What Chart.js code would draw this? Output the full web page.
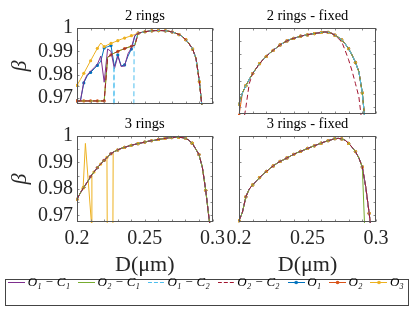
<!DOCTYPE html>
<html>
<head>
<meta charset="utf-8">
<title>beta vs D</title>
<script src="https://cdn.jsdelivr.net/npm/chart.js@4.4.1/dist/chart.umd.min.js"></script>
<style>
  html, body { margin: 0; padding: 0; background: #fff; }
  #fig { position: relative; width: 415px; height: 312px; overflow: hidden; }
  #fig canvas { position: absolute; }
  #legendBox { position: absolute; left: 5px; top: 279px; width: 402px; height: 25px; border: 1px solid #444; }
</style>
</head>
<body>
<div id="fig">
  <div id="legendBox"></div>
  <canvas id="panelA" width="230" height="120" style="left:0;top:0"></canvas>
  <canvas id="panelB" width="185" height="120" style="left:215px;top:0"></canvas>
  <canvas id="panelC" width="230" height="168" style="left:0;top:108px"></canvas>
  <canvas id="panelD" width="185" height="168" style="left:215px;top:108px"></canvas>
  <canvas id="legend" width="460" height="52" style="left:-22px;top:264px"></canvas>
</div>
<script>
// ticks: marks every 0.01 on D and 0.005 on beta, labels on a few of them
const xTickVals = [0.2, 0.21, 0.22, 0.23, 0.24, 0.25, 0.26, 0.27, 0.28, 0.29, 0.3];
const xTickLabels = [0.2, 0.25, 0.3];
const yTickVals = [0.97, 0.975, 0.98, 0.985, 0.99, 0.995, 1];
const yTickLabels = [0.97, 0.98, 0.99, 1];

// D values (um) on which most curves are sampled
const dGrid = [0.2, 0.2025, 0.205, 0.2075, 0.21, 0.2125, 0.215, 0.2175, 0.22, 0.2225,
  0.225, 0.2275, 0.23, 0.2325, 0.235, 0.2375, 0.24, 0.2425, 0.245, 0.2475,
  0.25, 0.2525, 0.255, 0.2575, 0.26, 0.2625, 0.265, 0.2675, 0.27, 0.2725,
  0.275, 0.2775, 0.28, 0.2825, 0.285, 0.2875, 0.29, 0.2925, 0.295, 0.2975, 0.3];

// (a) 2 rings : common right part of the dome (from D = 0.245)
const aTail = [0.9978, 0.9981, 0.9984, 0.9986, 0.9988, 0.9989, 0.9989, 0.9989, 0.9988, 0.9986,
  0.9983, 0.9978, 0.9972, 0.9963, 0.9950, 0.9932, 0.9910, 0.9870, 0.9770, 0.9630];
const aO3 = [0.9755, 0.9780, 0.9806, 0.9833, 0.9860, 0.9887, 0.9913, 0.9936, 0.9920, 0.9928,
  0.9934, 0.9940, 0.9946, 0.9952, 0.9957, 0.9962, 0.9967, 0.9972, ...aTail];
const aO2 = [0.9688, 0.9688, 0.9688, 0.9688, 0.9688, 0.9688, 0.9688, 0.9688, 0.9688, 0.9875,
  0.9885, 0.9893, 0.9900, 0.9906, 0.9912, 0.9917, 0.9922, 0.9926, ...aTail];
const aO1 = [0.9688, 0.9688, 0.9765, 0.9795, 0.9810, 0.9825, 0.9840, 0.9858, 0.9915, 0.9920,
  0.9925, 0.9835, 0.9885, 0.9838, 0.9842, 0.9880, 0.9910, 0.9965, ...aTail];
const aO1C1 = [0.9688, 0.9688, 0.9770, 0.9800, 0.9815, 0.9830, 0.9845, 0.9880, 0.9768, 0.9910,
  0.9900, 0.9825, 0.9880, 0.9835, 0.9838, 0.9890, 0.9915, 0.9968, ...aTail];
const aCyanX = [0.2, 0.2271, 0.2272, 0.2273, 0.2418, 0.242, 0.245, 0.2475, 0.25, 0.2525,
  0.255, 0.2575, 0.26, 0.2625, 0.265, 0.2675, 0.27, 0.2725, 0.275, 0.2775,
  0.28, 0.2825, 0.285, 0.2875, 0.29, 0.2925];
const aO1C2 = [0.966, 0.966, 0.9840, 0.966, 0.966, 0.9930, ...aTail];

// (b) 2 rings - fixed
const bMain = [0.9712, 0.9755, 0.9782, 0.9806, 0.9828, 0.9847, 0.9865, 0.9880, 0.9893, 0.9905,
  0.9916, 0.9926, 0.9936, 0.9944, 0.9951, 0.9957, 0.9961, 0.9965, 0.9969, 0.9972,
  0.9974, 0.9977, 0.9979, 0.9981, 0.9983, 0.9985, 0.9984, 0.9980, 0.9973, 0.9965,
  0.9955, 0.9940, 0.9922, 0.9898, 0.9870, 0.9835, 0.9755, 0.9620];
const bO2 = [0.9670, 0.9755, 0.9782, 0.9806, 0.9828, 0.9847, 0.9865, 0.9880, 0.9893, 0.9905,
  0.9916, 0.9926, 0.9936, 0.9944, 0.9951, 0.9957, 0.9961, 0.9965, 0.9969, 0.9972,
  0.9974, 0.9977, 0.9979, 0.9981, 0.9983, 0.9985, 0.9984, 0.9980, 0.9973, 0.9965,
  0.9955, 0.9940, 0.9922, 0.9898, 0.9870, 0.9835, 0.9755, 0.9620];
const bO2C2 = [0.955, 0.962, 0.9700, 0.9790, 0.9828, 0.9847, 0.9865, 0.9880, 0.9893, 0.9905,
  0.9916, 0.9926, 0.9936, 0.9944, 0.9951, 0.9957, 0.9961, 0.9965, 0.9969, 0.9972,
  0.9974, 0.9977, 0.9979, 0.9981, 0.9983, 0.9985, 0.9984, 0.9980, 0.9973, 0.9960,
  0.9948, 0.9915, 0.9880, 0.9838, 0.9790, 0.9740, 0.9630];

// (c) 3 rings
const cTail = [0.9953, 0.9957, 0.9961, 0.9965, 0.9968, 0.9971, 0.9974, 0.9977, 0.9980, 0.9982,
  0.9984, 0.9987, 0.9989, 0.9991, 0.9993, 0.9994, 0.9995, 0.9995, 0.9994, 0.9992,
  0.9984, 0.9973, 0.9952, 0.9930, 0.9882, 0.9795, 0.9686, 0.9600];
const cMain = [0.9761, 0.9785, 0.9806, 0.9825, 0.9846, 0.9864, 0.9880, 0.9894, 0.9908, 0.9921,
  0.9933, 0.9941, 0.9947, ...cTail];
const cO3x = [0.2, 0.2025, 0.2045, 0.2062, 0.2108, 0.211, 0.2125, 0.215, 0.2175, 0.22,
  0.2221, 0.2223, 0.2265, 0.2267, 0.23, 0.2325, 0.235, 0.2375, 0.24, 0.2425,
  0.245, 0.2475, 0.25, 0.2525, 0.255, 0.2575, 0.26, 0.2625, 0.265, 0.2675,
  0.27, 0.2725, 0.275, 0.2775, 0.28, 0.2825, 0.285, 0.2875, 0.29, 0.2925,
  0.295, 0.2975, 0.3];
const cO3 = [0.9761, 0.9785, 0.9803, 0.9972, 0.966, 0.9852, 0.9864, 0.9880, 0.9894, 0.9908,
  0.9919, 0.966, 0.966, 0.9940, 0.9947, ...cTail];

// (d) 3 rings - fixed
const dMain = [0.9680, 0.9712, 0.9770, 0.9800, 0.9815, 0.9829, 0.9843, 0.9855, 0.9866, 0.9877,
  0.9887, 0.9896, 0.9904, 0.9910, 0.9917, 0.9924, 0.9931, 0.9937, 0.9942, 0.9947,
  0.9953, 0.9958, 0.9963, 0.9968, 0.9973, 0.9978, 0.9982, 0.9986, 0.9990, 0.9991,
  0.9989, 0.9984, 0.9972, 0.9958, 0.9941, 0.9917, 0.9883, 0.9808, 0.9708, 0.9600];
const dGreen = [0.9680, 0.9712, 0.9770, 0.9800, 0.9815, 0.9829, 0.9843, 0.9855, 0.9866, 0.9877,
  0.9887, 0.9896, 0.9904, 0.9910, 0.9917, 0.9924, 0.9931, 0.9937, 0.9942, 0.9947,
  0.9953, 0.9958, 0.9963, 0.9968, 0.9973, 0.9978, 0.9982, 0.9986, 0.9990, 0.9991,
  0.9989, 0.9984, 0.9972, 0.9958, 0.9941, 0.9917, 0.9883, 0.955];

// series: O1-C1, O2-C1, O1-C2, O2-C2, O1, O2, O3
const seriesNames = ['O₁ − C₁', 'O₂ − C₁', 'O₁ − C₂', 'O₂ − C₂', 'O₁', 'O₂', 'O₃'];
const seriesColors = ['#7E2F8E', '#77AC30', '#4DBEEE', '#A2142F', '#0072BD', '#D95319', '#EDB120'];
const seriesDashed = [false, false, true, true, false, false, false];
const seriesDots = [false, false, false, false, true, true, true];
const seriesOrder = [3, 2, 1, 0, 6, 5, 4];

const serif = "'Liberation Serif', 'DejaVu Serif', serif";
const ink = '#262626';

// box round the plot area with small inward tick marks
const axesBox = {
  id: 'axesBox',
  afterDatasetsDraw(chart) {
    const { ctx, chartArea: a, scales: { x, y } } = chart;
    const L = Math.round(a.left) + 0.5, R = Math.round(a.right) - 0.5;
    const T = Math.round(a.top) + 0.5, B = Math.round(a.bottom) - 0.5;
    ctx.save();
    ctx.lineWidth = 1;
    ctx.strokeStyle = '#8a8a8a';
    ctx.beginPath();
    xTickVals.forEach(v => {
      const p = Math.round(x.getPixelForValue(v)) + 0.5;
      ctx.moveTo(p, B); ctx.lineTo(p, B - 2);
      ctx.moveTo(p, T); ctx.lineTo(p, T + 2);
    });
    yTickVals.forEach(v => {
      const p = Math.round(y.getPixelForValue(v)) + 0.5;
      ctx.moveTo(L, p); ctx.lineTo(L + 2, p);
      ctx.moveTo(R, p); ctx.lineTo(R - 2, p);
    });
    ctx.stroke();
    ctx.strokeStyle = '#555';
    ctx.strokeRect(L, T, R - L, B - T);
    ctx.restore();
  }
};

function makePanel(id, series, title, pad, yWidth, xHeight) {
  const showY = yWidth > 0, showX = xHeight > 0;
  const datasets = series.map(([xs, ys], i) => ({
    label: seriesNames[i],
    data: ys.map((v, k) => ({ x: xs[k], y: v })),
    borderColor: seriesColors[i],
    backgroundColor: seriesColors[i],
    borderWidth: 1,
    borderDash: seriesDashed[i] ? [5, 3] : [],
    pointRadius: seriesDots[i] ? (c => (c.dataIndex % 2 === 0 ? 1.6 : 0)) : 0,
    pointBorderWidth: 0,
    pointBackgroundColor: seriesColors[i],
    order: seriesOrder[i],
    tension: 0,
    clip: 1
  }));
  return new Chart(document.getElementById(id), {
    type: 'line',
    data: { datasets },
    options: {
      responsive: false,
      animation: false,
      events: [],
      layout: { padding: pad },
      plugins: {
        legend: { display: false },
        tooltip: { enabled: false },
        title: {
          display: true, text: title, fullSize: false, color: '#000',
          font: { family: serif, size: 14.5, weight: 'normal', lineHeight: 1.2 },
          padding: { top: 0, bottom: 3 }
        }
      },
      scales: {
        x: {
          type: 'linear', min: 0.2, max: 0.3,
          afterBuildTicks: s => { s.ticks = xTickLabels.map(v => ({ value: v })); },
          afterFit: s => { s.height = xHeight; },
          grid: { display: false, drawTicks: false },
          border: { display: false },
          ticks: {
            display: showX, autoSkip: false, maxRotation: 0, padding: 5, color: ink,
            font: { family: serif, size: 20 }, callback: v => String(v)
          },
          title: {
            display: showX, text: 'D(μm)', color: ink,
            font: { family: serif, size: 22, lineHeight: 1 }, padding: { top: 0, bottom: 0 }
          }
        },
        y: {
          type: 'linear', min: 0.9675, max: 1,
          afterBuildTicks: s => { s.ticks = yTickLabels.map(v => ({ value: v })); },
          afterFit: s => { s.width = yWidth; },
          grid: { display: false, drawTicks: false },
          border: { display: false },
          ticks: {
            display: showY, autoSkip: false, padding: 4, color: ink,
            font: { family: serif, size: 20 }, callback: v => String(v)
          },
          title: {
            display: showY, text: 'β', color: ink,
            font: { family: serif, size: 22, style: 'italic', lineHeight: 1 }, padding: { top: 9, bottom: 0 }
          }
        }
      }
    },
    plugins: [axesBox]
  });
}

makePanel('panelA', [[dGrid, aO1C1], [dGrid, aO2], [aCyanX, aO1C2], [dGrid, aO2], [dGrid, aO1], [dGrid, aO2], [dGrid, aO3]],
  '2 rings', { left: 0, right: 17, top: 7.6, bottom: 6 }, 77, 0);
makePanel('panelB', [[dGrid, bMain], [dGrid, bMain], [dGrid, bMain], [dGrid, bO2C2], [dGrid, bMain], [dGrid, bO2], [dGrid, bMain]],
  '2 rings - fixed', { left: 24, right: 24, top: 7.6, bottom: 6 }, 0, 0);
makePanel('panelC', [[dGrid, cMain], [dGrid, cMain], [dGrid, cMain], [dGrid, cMain], [dGrid, cMain], [dGrid, cMain], [cO3x, cO3]],
  '3 rings', { left: 0, right: 17, top: 7.6, bottom: 0 }, 77, 54);
makePanel('panelD', [[dGrid, dMain], [dGrid, dGreen], [dGrid, dMain], [dGrid, dMain], [dGrid, dMain], [dGrid, dMain], [dGrid, dMain]],
  '3 rings - fixed', { left: 24, right: 24, top: 7.6, bottom: 0 }, 0, 54);

// legend icons: line sample (dashed for C2) with a dot for the O curves
const legendIcons = seriesColors.map((col, i) => {
  const c = document.createElement('canvas');
  c.width = 17; c.height = 7;
  const g = c.getContext('2d');
  g.strokeStyle = col; g.lineWidth = 1;
  if (seriesDashed[i]) g.setLineDash([4, 2]);
  g.beginPath(); g.moveTo(0, 3.5); g.lineTo(17, 3.5); g.stroke();
  if (seriesDots[i]) {
    g.fillStyle = col;
    g.beginPath(); g.arc(8.5, 3.5, 1.8, 0, 2 * Math.PI); g.fill();
  }
  return c;
});

new Chart(document.getElementById('legend'), {
  type: 'line',
  data: { datasets: seriesNames.map((n, i) => ({ label: n, data: [], borderColor: seriesColors[i] })) },
  options: {
    responsive: false,
    animation: false,
    events: [],
    layout: { padding: 0 },
    scales: { x: { display: false }, y: { display: false } },
    plugins: {
      tooltip: { enabled: false },
      legend: {
        position: 'top',
        maxHeight: 60,
        labels: {
          usePointStyle: true, pointStyleWidth: 9, padding: 12, color: '#000',
          font: { family: serif, size: 13, style: 'italic' },
          generateLabels: () => seriesNames.map((n, i) => ({
            text: n, pointStyle: legendIcons[i], fillStyle: seriesColors[i],
            strokeStyle: seriesColors[i], lineWidth: 0, hidden: false, datasetIndex: i
          }))
        }
      }
    }
  }
});
</script>
</body>
</html>
